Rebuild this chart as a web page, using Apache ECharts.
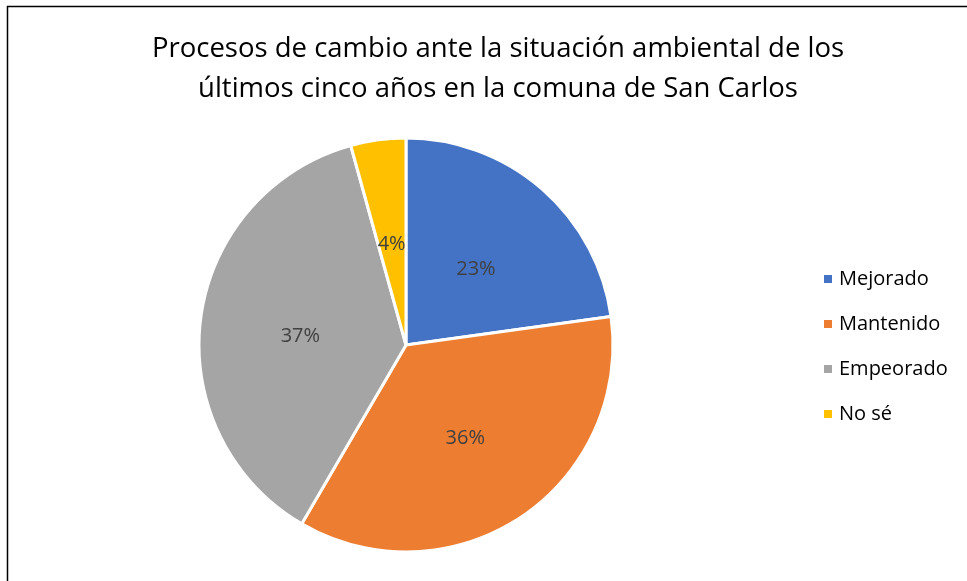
<!DOCTYPE html>
<html><head><meta charset="utf-8">
<script src="https://cdn.jsdelivr.net/npm/echarts@6/dist/echarts.min.js"></script>
<style>html,body{margin:0;padding:0;background:#fff}#c{width:967px;height:581px}</style>
</head><body><div id="c"></div>
<script>
const titleText = 'Procesos de cambio ante la situación ambiental de los\núltimos cinco años en la comuna de San Carlos';
const categories = ['Mejorado', 'Mantenido', 'Empeorado', 'No sé'];
const values = [22.8, 35.6, 37.3, 4.3];
const colors = ['#4472C4', '#ED7D31', '#A5A5A5', '#FFC000'];
const font = 'Open Sans';
const chart = echarts.init(document.getElementById('c'));
chart.setOption({
  backgroundColor: '#fff',
  animation: false,
  color: colors,
  title: {
    text: titleText, left: 493, top: 24, textAlign: 'center',
    textStyle: { fontFamily: font, fontSize: 27.5, fontWeight: 'normal', color: '#000', lineHeight: 40 }
  },
  legend: {
    orient: 'vertical', left: 817, top: 264, itemGap: 25, itemWidth: 10, itemHeight: 10, icon: 'rect',
    textStyle: { fontFamily: font, fontSize: 20, color: '#000', padding: [0, 0, 0, 1] }
  },
  graphic: [{ type: 'rect', shape: { x: 7.5, y: 6.5, width: 980, height: 600 }, style: { fill: 'none', stroke: '#000', lineWidth: 1.5 }, silent: true }],
  series: [{
    type: 'pie', center: [406, 345], radius: 207, startAngle: 90, clockwise: true, percentPrecision: 0,
    itemStyle: { borderColor: '#fff', borderWidth: 3 },
    label: { position: 'inside', formatter: '{d}%', fontFamily: font, fontSize: 20, color: '#404040' },
    labelLayout: { dy: 5 },
    labelLine: { show: false },
    data: categories.map((n, i) => ({ name: n, value: values[i] }))
  }]
});
</script></body></html>
